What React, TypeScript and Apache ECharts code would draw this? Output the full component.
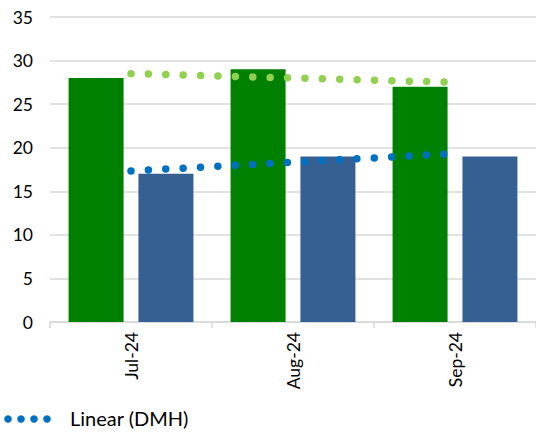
import React, { useEffect, useRef } from "react";
import * as echarts from "echarts";

const categories = ["Jul-24", "Aug-24", "Sep-24"];
const greenValues = [28, 29, 27];
const dmhValues = [17, 19, 19];
const greenTrend = [28.5, 28.0, 27.5];
const dmhTrend = [17.33, 18.33, 19.33];
const legendLabel = "Linear (DMH)";

export default function App() {
  const ref = useRef<HTMLDivElement>(null);
  useEffect(() => {
    const chart = echarts.init(ref.current!, null, { renderer: "svg" });
    const font = "Lato, 'Open Sans', sans-serif";
    const legendDots = [8, 21, 34, 47].map((cx) => ({
      type: "circle",
      shape: { cx, cy: 419, r: 3.8 },
      style: { fill: "#0070C0" },
    }));
    chart.setOption({
      animation: false,
      textStyle: { fontFamily: font },
      grid: { left: 50, width: 492, top: 17, bottom: 111, containLabel: false },
      graphic: [
        ...legendDots,
        {
          type: "text",
          left: 70,
          top: 408,
          style: { text: legendLabel, fontFamily: font, fontSize: 20, fill: "#000" },
        },
      ],
      xAxis: {
        type: "category",
        data: categories,
        axisLine: { lineStyle: { color: "#d9d9d9", width: 1.5 } },
        axisTick: { show: true, length: 6, lineStyle: { color: "#d9d9d9", width: 1.5 } },
        axisLabel: { rotate: 90, fontSize: 17.5, color: "#000", margin: 10, fontFamily: font },
      },
      yAxis: {
        type: "value",
        min: 0,
        max: 35,
        interval: 5,
        axisLine: { show: false },
        axisTick: { show: false },
        splitLine: { lineStyle: { color: "#d9d9d9", width: 1.5 } },
        axisLabel: { fontSize: 17.5, color: "#000", margin: 17, fontFamily: font },
      },
      series: [
        {
          name: "Green",
          type: "bar",
          data: greenValues,
          barWidth: 55,
          barGap: "27%",
          itemStyle: { color: "#008000" },
        },
        {
          name: "DMH",
          type: "bar",
          data: dmhValues,
          barWidth: 55,
          itemStyle: { color: "#376092" },
        },
        {
          name: "Linear (Green)",
          type: "line",
          data: greenTrend,
          symbol: "none",
          z: 5,
          lineStyle: { color: "#92D050", width: 7.5, type: [0, 17.4], cap: "round" },
        },
        {
          name: "Linear (DMH)",
          type: "line",
          data: dmhTrend,
          symbol: "none",
          z: 5,
          lineStyle: { color: "#0070C0", width: 7.5, type: [0, 17.4], cap: "round" },
        },
      ],
    });
    return () => chart.dispose();
  }, []);
  return <div ref={ref} style={{ width: 536, height: 433, position: "absolute", left: 0, top: 0 }} />;
}
